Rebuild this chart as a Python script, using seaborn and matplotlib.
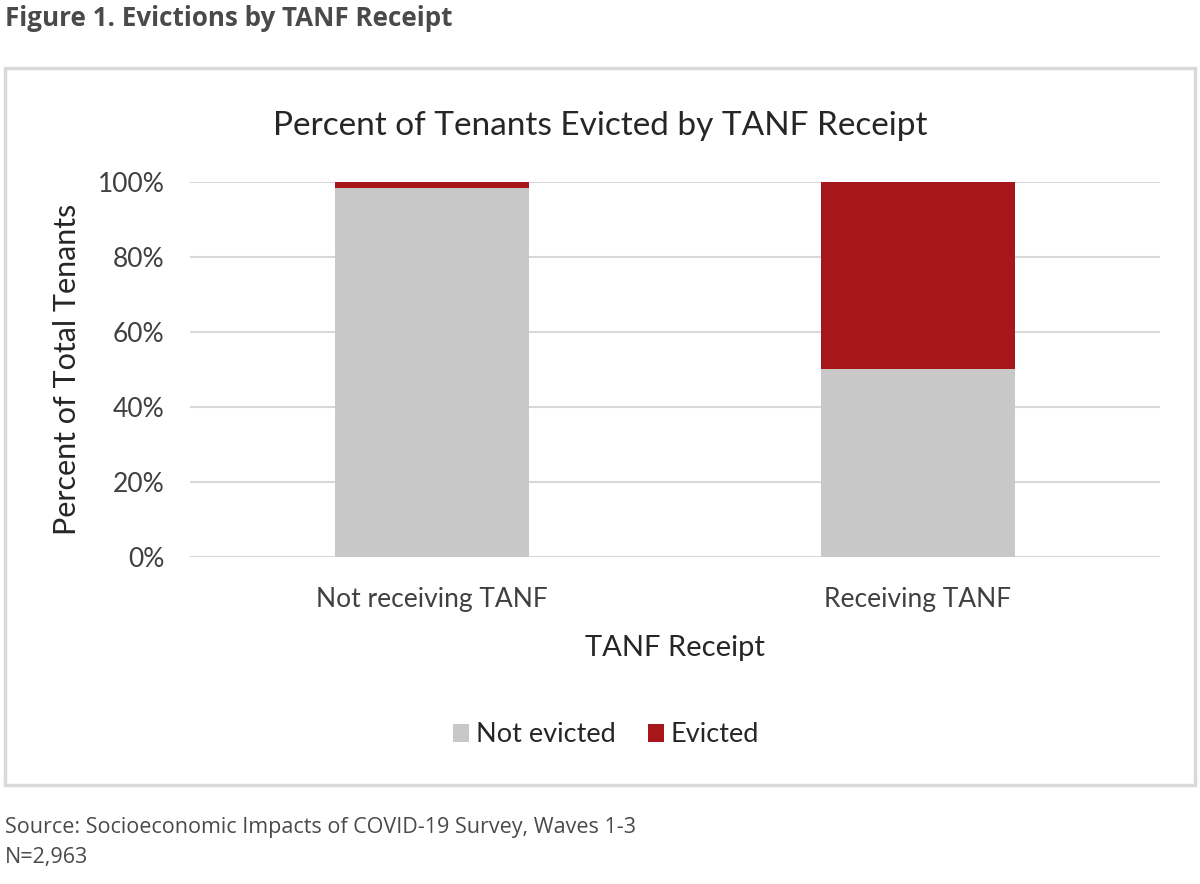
import matplotlib
matplotlib.use("Agg")
import matplotlib.pyplot as plt
import seaborn as sns
import pandas as pd
from matplotlib.patches import Rectangle

# Data (percent of tenants)
categories = ["Not receiving TANF", "Receiving TANF"]
not_evicted = [98.4, 50.1]
evicted = [1.6, 49.9]
y_ticks = [0, 20, 40, 60, 80, 100]

GREY = "#c8c8c8"
RED = "#a6161a"

sns.set_theme(style="white")
plt.rcParams["font.family"] = ["Lato", "DejaVu Sans"]

df = pd.DataFrame({"TANF Receipt": categories,
                   "Not evicted": not_evicted,
                   "Evicted": evicted})
df["Total"] = df["Not evicted"] + df["Evicted"]

fig = plt.figure(figsize=(12, 8.84), dpi=100)
ax = fig.add_axes([0.158, 0.370, 0.809, 0.424])

# stacked bars: draw the total in red, then the not-evicted part over it
sns.barplot(data=df, x="TANF Receipt", y="Total", color=RED, width=0.4,
            saturation=1, linewidth=0, label="Evicted", ax=ax, zorder=3)
sns.barplot(data=df, x="TANF Receipt", y="Not evicted", color=GREY, width=0.4,
            saturation=1, linewidth=0, label="Not evicted", ax=ax, zorder=3)

ax.set_xlim(-0.5, 1.5)
ax.set_ylim(0, 100)
ax.set_yticks(y_ticks)
ax.set_yticklabels([f"{v}%" for v in y_ticks])
ax.yaxis.grid(True, color="#d9d9d9", linewidth=1.5)
ax.set_axisbelow(True)
for s in ax.spines.values():
    s.set_visible(False)
ax.tick_params(axis="both", length=0, labelsize=19, colors="#404040")
ax.tick_params(axis="y", pad=18)
ax.tick_params(axis="x", pad=22)

# chart title is centred on the frame, not on the plot area
ax.set_title("Percent of Tenants Evicted by TANF Receipt", fontsize=24,
             color="#262626", pad=34, x=(600 - 190) / 970)
ax.set_ylabel("Percent of Total Tenants", fontsize=22, color="#262626", labelpad=12)
ax.set_xlabel("TANF Receipt", fontsize=21, color="#262626", labelpad=16)

# legend: Not evicted first
handles, labels = ax.get_legend_handles_labels()
order = [labels.index("Not evicted"), labels.index("Evicted")]
ax.legend([handles[i] for i in order], [labels[i] for i in order],
          loc="center", bbox_to_anchor=(0.505, 1 - 735 / 884),
          bbox_transform=fig.transFigure, ncol=2, frameon=False,
          fontsize=19.5, handlelength=0.6, handleheight=0.6,
          handletextpad=0.25, columnspacing=1.2, labelcolor="#262626")

# outer frame around the chart
fig.patches.append(Rectangle((5 / 1200, 1 - 785 / 884), 1190 / 1200, 717 / 884,
                             transform=fig.transFigure, fill=False,
                             edgecolor="#d9d9d9", linewidth=2.5))

# page header and source notes
fig.text(5 / 1200, 1 - 19 / 884, "Figure 1. Evictions by TANF Receipt",
         fontsize=18.7, fontweight="bold", color="#4a4a4a", va="center",
         family=["Open Sans", "DejaVu Sans"])
fig.text(5 / 1200, 1 - 828 / 884, "Source: Socioeconomic Impacts of COVID-19 Survey, Waves 1-3",
         fontsize=15.5, color="#4a4a4a", va="center", family=["Open Sans", "DejaVu Sans"])
fig.text(5 / 1200, 1 - 858 / 884, "N=2,963",
         fontsize=15.5, color="#4a4a4a", va="center", family=["Open Sans", "DejaVu Sans"])

fig.savefig("out.png", dpi=100)
